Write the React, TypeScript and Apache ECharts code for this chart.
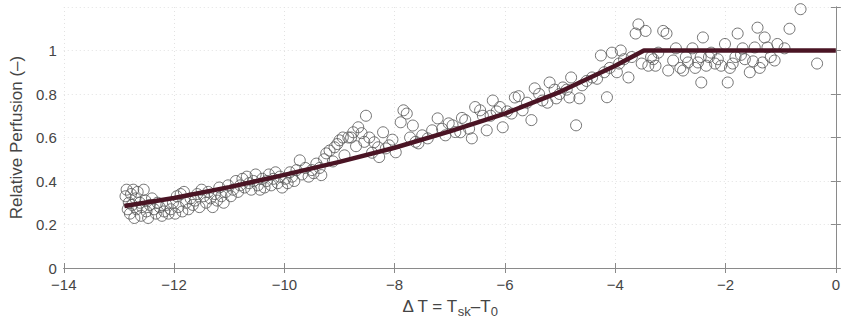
import React, { useEffect, useRef } from "react";
import * as echarts from "echarts";

const xTicks = [-14, -12, -10, -8, -6, -4, -2, 0];
const yTicks = [0, 0.2, 0.4, 0.6, 0.8, 1];

const fitX = [-12.9, -12, -11, -10, -9, -8, -7, -6, -5, -4, -3.48, 0];
const fitY = [0.285, 0.322, 0.372, 0.428, 0.488, 0.553, 0.628, 0.71, 0.81, 0.93, 1.0, 1.0];

const scatterPoints: [number, number][] = [
  [-12.88,0.33],[-12.86,0.36],[-12.84,0.27],[-12.82,0.30],[-12.8,0.25],[-12.78,0.34],[-12.76,0.29],[-12.74,0.36],[-12.72,0.23],[-12.7,0.32],[-12.68,0.27],[-12.66,0.35],[-12.62,0.30],[-12.6,0.24],[-12.58,0.28],[-12.55,0.36],[-12.52,0.31],[-12.5,0.26],[-12.47,0.23],[-12.44,0.29],[-12.4,0.32],[-12.36,0.27],[-12.33,0.25],[-12.3,0.30],[-12.26,0.28],[-12.22,0.24],[-12.18,0.26],[-12.14,0.29],[-12.1,0.25],[-12.06,0.27],[-12.02,0.30],
  [-11.98,0.25],[-11.95,0.33],[-11.92,0.28],[-11.88,0.34],[-11.85,0.26],[-11.82,0.35],[-11.78,0.30],[-11.74,0.27],[-11.7,0.32],[-11.66,0.29],[-11.62,0.31],[-11.58,0.34],[-11.54,0.28],[-11.5,0.36],[-11.46,0.33],[-11.42,0.30],[-11.38,0.35],[-11.34,0.32],[-11.3,0.28],[-11.26,0.34],[-11.22,0.31],[-11.18,0.37],[-11.14,0.33],[-11.1,0.30],[-11.06,0.35],[-11.02,0.38],
  [-10.97,0.33],[-10.93,0.36],[-10.88,0.40],[-10.84,0.35],[-10.8,0.38],[-10.76,0.41],[-10.72,0.37],[-10.68,0.42],[-10.64,0.39],[-10.6,0.36],[-10.56,0.40],[-10.52,0.43],[-10.48,0.38],[-10.44,0.36],[-10.4,0.41],[-10.36,0.37],[-10.32,0.40],[-10.28,0.43],[-10.24,0.38],[-10.2,0.41],[-10.16,0.44],[-10.12,0.39],[-10.08,0.42],[-10.04,0.37],
  [-9.98,0.41],[-9.94,0.39],[-9.9,0.44],[-9.86,0.42],[-9.82,0.40],[-9.78,0.45],[-9.72,0.495],[-9.68,0.43],[-9.62,0.46],[-9.56,0.42],[-9.5,0.45],[-9.47,0.436],[-9.42,0.48],[-9.36,0.46],[-9.33,0.427],[-9.28,0.50],[-9.24,0.527],[-9.18,0.54],[-9.12,0.49],[-9.09,0.555],[-9.04,0.57],[-9.0,0.587],[-8.94,0.60],[-8.91,0.518],
  [-8.84,0.60],[-8.79,0.60],[-8.75,0.624],[-8.7,0.56],[-8.66,0.647],[-8.6,0.62],[-8.55,0.58],[-8.52,0.70],[-8.46,0.60],[-8.41,0.53],[-8.37,0.578],[-8.3,0.555],[-8.28,0.51],[-8.21,0.624],[-8.16,0.55],[-8.1,0.564],[-8.04,0.59],[-7.98,0.532],
  [-7.89,0.67],[-7.84,0.725],[-7.78,0.71],[-7.72,0.60],[-7.67,0.655],[-7.62,0.58],[-7.57,0.573],[-7.5,0.61],[-7.4,0.596],[-7.32,0.633],[-7.22,0.688],[-7.14,0.64],[-7.08,0.61],[-7.02,0.665],
  [-6.95,0.656],[-6.9,0.625],[-6.81,0.624],[-6.78,0.69],[-6.72,0.68],[-6.65,0.64],[-6.6,0.596],[-6.54,0.74],[-6.45,0.725],[-6.4,0.70],[-6.33,0.633],[-6.26,0.70],[-6.22,0.77],[-6.15,0.72],[-6.09,0.74],[-6.04,0.647],
  [-5.96,0.72],[-5.88,0.71],[-5.82,0.784],[-5.75,0.79],[-5.68,0.725],[-5.6,0.76],[-5.52,0.68],[-5.46,0.826],[-5.38,0.80],[-5.32,0.77],[-5.23,0.76],[-5.19,0.853],[-5.1,0.82],[-5.07,0.78],[-5.01,0.80],
  [-4.95,0.83],[-4.88,0.82],[-4.83,0.784],[-4.8,0.876],[-4.71,0.656],[-4.65,0.78],[-4.6,0.84],[-4.52,0.86],[-4.42,0.876],[-4.33,0.87],[-4.26,0.977],[-4.2,0.90],[-4.15,0.785],[-4.1,0.92],[-4.06,0.99],
  [-3.97,0.90],[-3.93,0.94],[-3.9,1.0],[-3.84,0.96],[-3.76,0.876],[-3.7,0.97],[-3.63,1.078],[-3.58,1.12],[-3.52,0.94],[-3.45,1.09],[-3.4,0.93],[-3.35,0.97],[-3.31,0.96],[-3.27,0.93],[-3.22,0.99],[-3.13,1.09],[-3.07,1.078],[-3.04,0.908],
  [-2.95,0.954],[-2.9,1.01],[-2.82,0.92],[-2.77,0.908],[-2.72,0.97],[-2.68,0.945],[-2.6,1.01],[-2.55,0.92],[-2.5,0.945],[-2.45,0.97],[-2.41,1.06],[-2.44,0.853],[-2.35,0.93],[-2.3,0.97],[-2.26,0.99],[-2.19,0.94],[-2.14,0.96],[-2.08,0.93],[-2.01,1.03],[-1.96,0.853],[-1.92,0.92],[-1.87,0.94],[-1.82,0.97],[-1.78,1.078],[-1.72,0.98],[-1.69,1.01],[-1.65,0.96],[-1.56,0.90],[-1.5,0.95],[-1.47,1.014],[-1.42,1.105],[-1.38,0.92],[-1.33,0.945],[-1.29,1.06],[-1.24,1.014],[-1.18,0.97],[-1.11,0.954],[-1.06,1.03],[-0.93,1.01],[-0.84,1.10],[-0.64,1.19],[-0.34,0.94]
];

const FONT = "'Liberation Sans', Arial, sans-serif";
const AXIS_COLOR = "#8a8a8a";
const TEXT_COLOR = "#454545";

export default function App() {
  const ref = useRef<HTMLDivElement>(null);
  useEffect(() => {
    if (!ref.current) return;
    const chart = echarts.init(ref.current, null, { renderer: "svg" });
    const fmtY = (v: number) => (yTicks.some((t) => Math.abs(t - v) < 1e-9) ? String(Number(v.toFixed(1))) : "");
    const fmtX = (v: number) => (xTicks.includes(v) ? (v < 0 ? "\u2212" + Math.abs(v) : String(v)) : "");
    chart.setOption({
      animation: false,
      backgroundColor: "#fff",
      grid: { left: 60, right: 4, top: 7, bottom: 55, containLabel: false },
      xAxis: [
        {
          type: "value",
          min: -14,
          max: 0,
          interval: 2,
          position: "bottom",
          axisLine: { show: true, lineStyle: { color: AXIS_COLOR, width: 1 } },
          axisTick: { show: true, inside: true, length: 5, lineStyle: { color: AXIS_COLOR } },
          axisLabel: { color: TEXT_COLOR, fontFamily: FONT, fontSize: 15, margin: 9, formatter: fmtX },
          splitLine: { show: true, lineStyle: { color: "#e2e2e2", type: [1, 3], width: 1 } },
          name: "\u0394 T = T{sub|sk}\u2013T{sub|0}",
          nameLocation: "middle",
          nameGap: 26,
          nameTextStyle: {
            color: TEXT_COLOR,
            fontFamily: FONT,
            fontSize: 17,
            rich: { sub: { fontSize: 13, verticalAlign: "bottom", padding: [11, 0, 0, 0], color: TEXT_COLOR, fontFamily: FONT } },
          },
        },
        {
          type: "value",
          min: -14,
          max: 0,
          interval: 2,
          position: "top",
          axisLine: { show: true, lineStyle: { color: AXIS_COLOR, width: 1 } },
          axisTick: { show: true, inside: true, length: 5, lineStyle: { color: AXIS_COLOR } },
          axisLabel: { show: false },
          splitLine: { show: false },
        },
      ],
      yAxis: [
        {
          type: "value",
          min: 0,
          max: 1.2,
          interval: 0.2,
          position: "left",
          axisLine: { show: true, lineStyle: { color: AXIS_COLOR, width: 1 } },
          axisTick: { show: true, inside: true, length: 5, lineStyle: { color: AXIS_COLOR } },
          axisLabel: { color: TEXT_COLOR, fontFamily: FONT, fontSize: 15, margin: 7, formatter: fmtY },
          splitLine: { show: true, lineStyle: { color: "#e2e2e2", type: [1, 3], width: 1 } },
          name: "Relative Perfusion (\u2013)",
          nameLocation: "middle",
          nameGap: 36,
          nameTextStyle: { color: TEXT_COLOR, fontFamily: FONT, fontSize: 17 },
        },
        {
          type: "value",
          min: 0,
          max: 1.2,
          interval: 0.2,
          position: "right",
          axisLine: { show: true, lineStyle: { color: AXIS_COLOR, width: 1 } },
          axisTick: { show: true, inside: true, length: 5, lineStyle: { color: AXIS_COLOR } },
          axisLabel: { show: false },
          splitLine: { show: false },
        },
      ],
      series: [
        {
          type: "scatter",
          xAxisIndex: 0,
          yAxisIndex: 0,
          data: scatterPoints,
          symbol: "circle",
          symbolSize: 11,
          itemStyle: { color: "rgba(0,0,0,0)", borderColor: "#5a5a5a", borderWidth: 1, opacity: 0.85 },
          z: 2,
        },
        {
          type: "line",
          xAxisIndex: 0,
          yAxisIndex: 0,
          data: fitX.map((x, i) => [x, fitY[i]]),
          showSymbol: false,
          symbol: "none",
          lineStyle: { color: "#4a1424", width: 4.5 },
          z: 3,
        },
      ],
    });
    return () => chart.dispose();
  }, []);
  return <div ref={ref} style={{ width: 843, height: 323, position: "absolute", left: 0, top: 0 }} />;
}
